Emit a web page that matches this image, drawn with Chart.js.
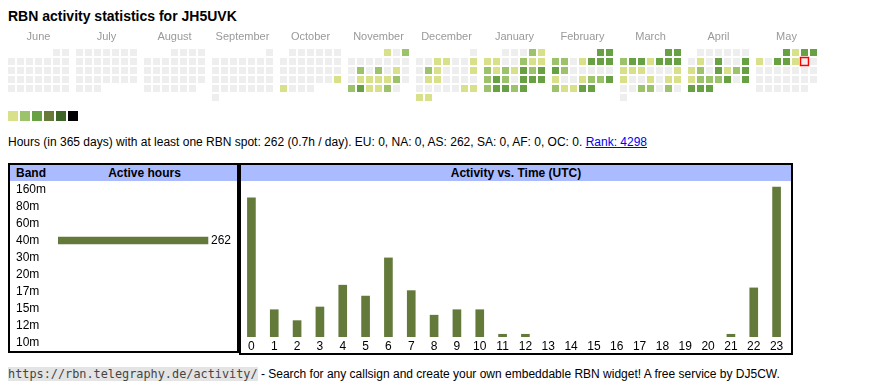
<!DOCTYPE html>
<html>
<head>
<meta charset="utf-8">
<script src="https://cdn.jsdelivr.net/npm/chart.js@4.4.1/dist/chart.umd.min.js"></script>
<style>
  body { margin: 0; background: #fff; font-family: "Liberation Sans", Arial, sans-serif; color: #000; }
  #page { position: relative; width: 870px; height: 390px; overflow: hidden; }
  .abs { position: absolute; }
  #title { left: 8px; top: 8px; font-size: 14px; line-height: 16px; font-weight: bold; white-space: nowrap; }
  #stats { left: 8px; top: 135px; font-size: 12px; line-height: 14px; white-space: nowrap; }
  #stats a { color: #0000ee; }
  .sw { width: 10px; height: 10px; top: 111px; }
  .box { border: 2px solid #000; box-sizing: border-box; }
  .head { background: #aabbff; height: 16px; font-size: 12px; line-height: 16px; font-weight: bold; white-space: nowrap; }
  #foot { left: 8px; top: 367px; font-size: 12px; line-height: 15px; white-space: nowrap; }
  #foot code { font-family: "DejaVu Sans Mono", monospace; font-size: 11.85px; background: #e4e4e4; color: #444; }
</style>
</head>
<body>
<div id="page">
  <div id="title" class="abs">RBN activity statistics for JH5UVK</div>

  <div class="abs" style="left:0;top:24px;width:870px;height:83px;"><canvas id="cal"></canvas></div>

  <div class="abs sw" style="left:8px;background:#d8e08a"></div>
  <div class="abs sw" style="left:20px;background:#9cc36b"></div>
  <div class="abs sw" style="left:32px;background:#68a044"></div>
  <div class="abs sw" style="left:44px;background:#677a3a"></div>
  <div class="abs sw" style="left:56px;background:#3c6527"></div>
  <div class="abs sw" style="left:68px;background:#000000"></div>

  <div id="stats" class="abs">Hours (in 365 days) with at least one RBN spot: 262 (0.7h / day). EU: 0, NA: 0, AS: 262, SA: 0, AF: 0, OC: 0. <a href="#">Rank: 4298</a></div>

  <div class="abs box" style="left:8px;top:163px;width:231px;height:190px;"></div>
  <div class="abs head" style="left:10px;top:165px;width:227px;"></div>
  <div class="abs head" style="left:16px;top:165px;background:none;">Band</div>
  <div class="abs head" style="left:58px;top:165px;width:173px;text-align:center;background:none;">Active hours</div>
  <div class="abs" style="left:10px;top:173px;width:226px;height:186px;"><canvas id="band"></canvas></div>

  <div class="abs box" style="left:239px;top:163px;width:554px;height:192px;"></div>
  <div class="abs head" style="left:241px;top:165px;width:550px;text-align:center;">Activity vs. Time (UTC)</div>
  <div class="abs" style="left:240px;top:181px;width:548px;height:172px;"><canvas id="hour"></canvas></div>

  <div id="foot" class="abs"><code>https://rbn.telegraphy.de/activity/</code> - Search for any callsign and create your own embeddable RBN widget! A free service by DJ5CW.</div>
</div>

<script>
// calendar: one level (0 = no activity) per day, June 2024 .. May 2025
const monthNames = ['June', 'July', 'August', 'September', 'October', 'November', 'December', 'January', 'February', 'March', 'April', 'May'];
const monthStartCol = [5, 0, 3, 6, 1, 4, 6, 2, 5, 5, 1, 3]; // weekday of the 1st, Monday = 0

const lvJun = [0,0,0,0,0,0,0,0,0,0, 0,0,0,0,0,0,0,0,0,0, 0,0,0,0,0,0,0,0,0,0];
const lvJul = [0,0,0,0,0,0,0,0,0,0, 0,0,0,0,0,0,0,0,0,0, 0,0,0,0,0,0,0,0,0,0, 0];
const lvAug = [0,0,0,0,0,0,0,0,0,0, 0,0,0,0,0,0,0,0,0,0, 0,0,0,0,0,0,0,0,0,0, 0];
const lvSep = [0,0,0,0,0,0,0,0,0,0, 0,0,0,0,0,0,0,0,0,0, 0,0,0,0,0,0,0,0,0,0];
const lvOct = [0,0,0,0,0,0,0,0,0,0, 0,0,0,0,0,0,0,0,0,0, 0,0,0,0,0,0,1,1,0,0, 0];
const lvNov = [1,0,2, 0,0,0,0,0,0,0, 0,2,0,2,0,1,0, 0,1,1,1,1,2,0, 2,3,1,1,2,0];
const lvDec = [0, 0,0,1,1,0,0,1, 0,2,1,0,0,0,1, 0,1,1,0,0,0,0, 0,0,0,0,0,1,1, 1,1];
const lvJan = [0,0,0,2,1, 1,1,0,0,2,1,1, 2,1,2,1,3,2,3, 2,3,2,0,3,3,3, 2,3,3,2,3];
const lvFeb = [3,3, 2,2,0,1,3,3,3, 3,2,0,0,0,0,0, 1,0,0,1,2,2,3, 2,1,1,3,3];
const lvMar = [3,3, 2,3,3,1,3,3,3, 1,1,1,0,0,0,1, 1,0,0,1,0,1,1, 0,0,2,2,0,2,0, 0];
const lvApr = [0,0,0,0,0,0, 0,1,0,3,0,0,3, 1,2,0,3,1,2,3, 1,2,2,2,3,0,3, 3,3,3];
const lvMay = [3,1,3,3, 1,0,3,3,1,0,0, 0,0,0,0,0,0,0, 0,0,0,0,0,0,0, 0,0,0,0,0,0];
const monthLevels = [lvJun, lvJul, lvAug, lvSep, lvOct, lvNov, lvDec, lvJan, lvFeb, lvMar, lvApr, lvMay];
const levelColors = ['#eeeeee', '#d8e08a', '#9cc36b', '#68a044', '#677a3a', '#3c6527', '#000000'];
const todayMonth = 11, todayDay = 10;

// per band / per hour active hours
const bands = ['160m', '80m', '60m', '40m', '30m', '20m', '17m', '15m', '12m', '10m'];
const bandValues = [0, 0, 0, 262, 0, 0, 0, 0, 0, 0];
const hours = ['0','1','2','3','4','5','6','7','8','9','10','11','12','13','14','15','16','17','18','19','20','21','22','23'];
const hourValues = [51, 10, 6, 11, 19, 15, 29, 17, 8, 10, 10, 1, 1, 0, 0, 0, 0, 0, 0, 0, 0, 1, 18, 55];

const barColor = '#637a3b';
const font = '"Liberation Sans", Arial, sans-serif';
Chart.defaults.font.family = font;

const BLOCK = 68 / 9; // one month block = 7 day columns + gap
const cells = [];
monthLevels.forEach((lv, m) => {
    lv.forEach((level, i) => {
        const k = monthStartCol[m] + i;
        cells.push({
            x: m * BLOCK + (k % 7),
            y: Math.floor(k / 7),
            level: level,
            today: m === todayMonth && i + 1 === todayDay
        });
    });
});

const isToday = ctx => !!(ctx.raw && ctx.raw.today);

new Chart(document.getElementById('cal'), {
    type: 'scatter',
    data: {
        datasets: [{
            data: cells,
            pointStyle: 'rect',
            pointRadius: ctx => isToday(ctx) ? 5.66 : 4.95,
            pointHoverRadius: ctx => isToday(ctx) ? 5.66 : 4.95,
            backgroundColor: ctx => ctx.raw ? levelColors[ctx.raw.level] : '#eee',
            borderColor: ctx => isToday(ctx) ? '#ff0000' : 'rgba(0,0,0,0)',
            borderWidth: ctx => isToday(ctx) ? 1.5 : 0
        }]
    },
    options: {
        animation: false,
        maintainAspectRatio: false,
        layout: { padding: 0, autoPadding: false },
        plugins: { legend: { display: false }, tooltip: { enabled: false } },
        scales: {
            x: {
                type: 'linear',
                position: 'top',
                min: -11.5 / 9,
                max: -11.5 / 9 + 870 / 9,
                grid: { display: false, drawTicks: false },
                border: { display: false },
                ticks: {
                    color: '#999',
                    font: { size: 11 },
                    padding: 0,
                    autoSkip: false,
                    maxRotation: 0,
                    callback: (v, i) => monthNames[i]
                },
                afterBuildTicks: s => { s.ticks = monthNames.map((n, m) => ({ value: m * BLOCK + 3 })); },
                afterFit: s => { s.height = 20; }
            },
            y: { display: false, reverse: true, min: -8.5 / 9, max: -8.5 / 9 + 7 }
        }
    }
});

const valueLabel = {
    id: 'valueLabel',
    afterDatasetsDraw(chart) {
        const ctx = chart.ctx;
        chart.getDatasetMeta(0).data.forEach((bar, i) => {
            const v = chart.data.datasets[0].data[i];
            if (!v) return;
            ctx.save();
            ctx.fillStyle = '#000';
            ctx.font = '12px ' + font;
            ctx.textBaseline = 'middle';
            ctx.fillText(String(v), bar.x + 3, bar.y);
            ctx.restore();
        });
    }
};

// zero values get no visible bar
const barFill = ctx => ctx.raw ? barColor : 'rgba(0,0,0,0)';

new Chart(document.getElementById('band'), {
    type: 'bar',
    data: {
        labels: bands,
        datasets: [{ data: bandValues, backgroundColor: barFill, barThickness: 7 }]
    },
    options: {
        indexAxis: 'y',
        animation: false,
        maintainAspectRatio: false,
        layout: { padding: { left: 6, top: 8, bottom: 8 } },
        plugins: { legend: { display: false }, tooltip: { enabled: false } },
        scales: {
            x: { display: false, min: 0, max: 311 },
            y: {
                grid: { display: false, drawTicks: false },
                border: { display: false },
                ticks: { crossAlign: 'far', color: '#000', font: { size: 12 }, padding: 0, autoSkip: false },
                afterFit: s => { s.width = 42; }
            }
        }
    },
    plugins: [valueLabel]
});

new Chart(document.getElementById('hour'), {
    type: 'bar',
    data: {
        labels: hours,
        datasets: [{ data: hourValues, backgroundColor: barFill, barThickness: 8 }]
    },
    options: {
        animation: false,
        maintainAspectRatio: false,
        plugins: { legend: { display: false }, tooltip: { enabled: false } },
        scales: {
            x: {
                grid: { display: false, drawTicks: false },
                border: { display: false },
                ticks: { color: '#000', font: { size: 12 }, padding: 2, autoSkip: false, maxRotation: 0 },
                afterFit: s => { s.height = 16; }
            },
            y: { display: false, min: 0, max: 57.2 }
        }
    }
});
</script>
</body>
</html>
